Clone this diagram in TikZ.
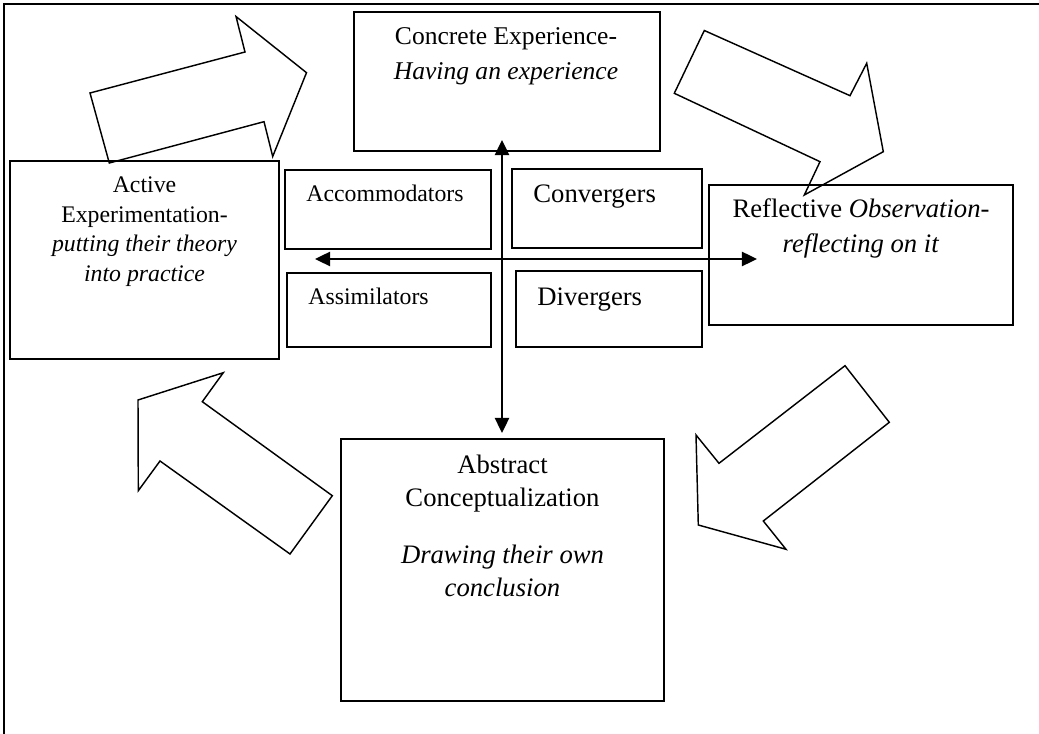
\documentclass[tikz,border=0pt]{standalone}
\usepackage{fontspec}
\setmainfont{Liberation Serif}
\usetikzlibrary{arrows.meta}

\begin{document}
\begin{tikzpicture}[x=0.45pt, y=-0.45pt,
    box/.style={line width=0.7pt},
    bigarrow/.style={line width=0.65pt, line join=miter},
    axis/.style={line width=0.9pt, {Triangle[length=6.8pt,width=6.4pt]}-{Triangle[length=6.8pt,width=6.4pt]}},
    bigtxt/.style={font=\fontsize{12}{15.75}\selectfont, align=center, inner sep=0pt},
    smalltxt/.style={font=\fontsize{10.7}{13.3}\selectfont, align=center, inner sep=0pt}]
    \useasboundingbox (0,0) rectangle (1039,734);
    \draw[line width=0.9pt] (1045,4) to (4,4) to (4,740);

      %%concrete
      \draw[box] (354,12) rectangle (660,151);
      \node[bigtxt, font=\fontsize{11.5}{15.75}\selectfont, anchor=base] (concrete) at (506,80)
        {Concrete Experience-\\\textit{Having an experience}};

      %%active
      \draw[box] (10,161) rectangle (279,359);
      \node[smalltxt, anchor=base] (active) at (144.5,281.5)
        {Active\\Experimentation-\\\textit{putting their theory}\\\textit{into practice}};

      %%reflective
      \draw[box] (709,185) rectangle (1013,325);
      \node[bigtxt, anchor=base] (reflective) at (861,253)
        {Reflective \textit{Observation-}\\\textit{reflecting on it}};

      %%abstract
      \draw[box] (341,439) rectangle (664,701);
      \node[bigtxt, font=\fontsize{12}{14.85}\selectfont, anchor=base] (abstract) at (502.5,597)
        {Abstract\\Conceptualization\\[10.8pt]\textit{Drawing their own}\\\textit{conclusion}};

      %%quadrants
      \draw[box] (285,170) rectangle (491,249);
      \node[smalltxt, anchor=base west] (accom) at (306,202) {Accommodators};
      \draw[box] (512,169) rectangle (702,248);
      \node[bigtxt, anchor=base west] (conv) at (533,203) {Convergers};
      \draw[box] (287,273) rectangle (491,347);
      \node[smalltxt, anchor=base west] (assim) at (308,305) {Assimilators};
      \draw[box] (516,271) rectangle (702,347);
      \node[bigtxt, anchor=base west] (div) at (537,305.5) {Divergers};

    %%axes
    \coordinate (vtop) at (502,140);
    \coordinate (vbot) at (502,433);
    \coordinate (hleft) at (315,259);
    \coordinate (hright) at (757,259);
    \draw[axis] (vbot) to (vtop);
    \draw[axis] (hleft) to (hright);

    %%cycle arrows
    \draw[bigarrow] (109.3,163) -- (90,93) -- (245,52) -- (236,16.5) -- (306.5,72.7)
      -- (272.7,156.5) -- (264,121.7) -- cycle;
    \draw[bigarrow] (674.3,93.3) -- (820,161.7) -- (804.3,195) -- (883.3,151.7)
      -- (866.7,63.3) -- (850,95.7) -- (704.3,30.5) -- cycle;
    \draw[bigarrow] (845,365.7) -- (889.3,422.3) -- (763.3,521) -- (786,549.3)
      -- (698.3,525) -- (696,435) -- (719,463.3) -- cycle;
    \draw[bigarrow] (138,400) -- (223.3,372.7) -- (202.3,401.7) -- (332.3,495.7)
      -- (290,554) -- (160,461) -- (138.3,490.7) -- cycle;

\end{tikzpicture}
\end{document}
